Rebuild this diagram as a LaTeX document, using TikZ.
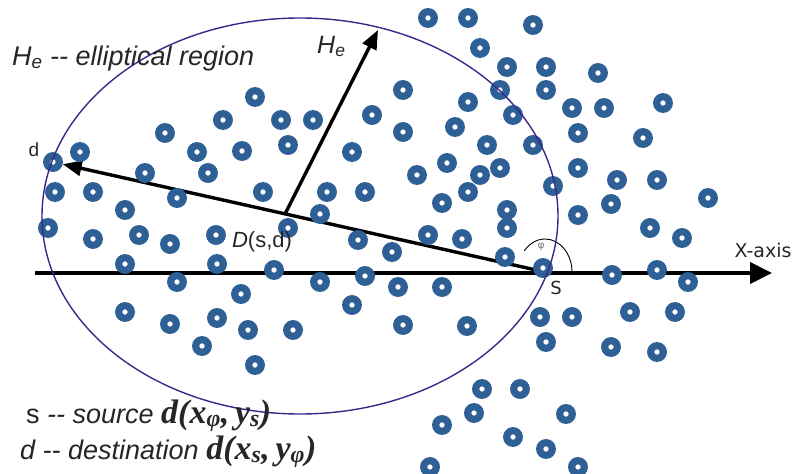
\documentclass[tikz,border=0pt]{standalone}
\usepackage{fontspec}
\setmainfont{Liberation Sans}
\newfontfamily\axisfont{DejaVu Sans}
\newfontfamily\tnrfont{Liberation Serif}
\usetikzlibrary{arrows.meta}

\definecolor{sensorblue}{RGB}{46,96,150}
\definecolor{regionblue}{RGB}{58,40,140}

\begin{document}
\begin{tikzpicture}[x=1pt, y=-1pt,
    sensor/.style={circle, draw=sensorblue, line width=7.2pt, fill=white, minimum size=12.6pt, inner sep=0pt},
    lbl/.style={inner sep=0pt, text=black!85},
    bigarrow/.style={line width=3.4pt, -{Triangle[length=19pt, width=15pt]}}]
    \useasboundingbox (0,0) rectangle (793,474);
    % Axis, source and the two arrows:
    \coordinate (O) at (35,273);
    \coordinate (X) at (772,273);
    \coordinate (S) at (545,272);
    \coordinate (D) at (285,214);
    \coordinate (Htip) at (378,30);
    \node[sensor] (d) at (53,162) {};
    \draw[line width=4pt, -{Triangle[length=22pt, width=21pt]}] (O) -- (X);
    \draw[bigarrow] (S) -- (d);
    \draw[bigarrow] (D) -- (Htip);
    \draw[line width=0.9pt] (S) ++(27,0) arc[start angle=0, end angle=-140, x radius=27, y radius=33];
    % Sensor nodes:
    \foreach \px/\py [count=\i] in {428/18, 468/18, 533/25, 480/48, 507/67, 546/67, 598/73, 546/90,
        500/90, 403/90, 255/97, 468/102, 572/108, 604/108, 663/103, 513/115, 372/115, 223/120,
        281/120, 313/120, 455/127, 403/132, 165/133, 578/133, 643/138, 288/145, 487/145, 533/145,
        80/152, 197/152, 242/151, 352/152, 447/163, 500/168, 578/168, 145/173, 208/173, 480/175,
        417/175, 617/180, 657/180, 553/186, 55/192, 93/192, 177/198, 263/192, 327/192, 365/192,
        468/192, 708/198, 442/203, 611/204, 125/210, 320/214, 507/210, 578/215, 48/228, 507/228,
        288/228, 650/228, 93/239, 139/235, 170/244, 216/235, 358/240, 428/235, 462/239, 682/238,
        392/252, 505/257, 125/264, 217/264, 274/270, 543/268, 612/275, 657/270, 365/276, 177/282,
        320/282, 688/282, 398/287, 442/287, 241/294, 352/305, 125/312, 217/318, 170/324, 248/330,
        293/330, 403/325, 467/326, 540/317, 572/317, 630/312, 675/312, 202/346, 546/342, 611/347,
        657/352, 255/365, 482/389, 520/389, 474/413, 566/414, 442/425, 513/437, 546/449, 430/467,
        578/467}
        \node[sensor] (n\i) at (\px,\py) {};
    % Elliptical region:
    \draw[regionblue, line width=1.4pt] (300,216) ellipse [x radius=258, y radius=198];
    % Labels:
    \node[lbl, anchor=base west, font=\fontsize{27}{30}\selectfont] (title) at (12,65)
        {\textit{H}\textsubscript{\textit{e}} \textit{-{}- elliptical region}};
    \node[lbl, anchor=base west, font=\fontsize{25}{30}\selectfont] (Hlbl) at (317,53) {\textit{H}\textsubscript{\textit{e}}};
    \node[lbl, font=\fontsize{19}{22}\selectfont] (dlbl) at (34,150) {d};
    \node[lbl, font=\fontsize{22}{26}\selectfont] (Dlbl) at (262,242) {\textit{D}(s,d)};
    \node[lbl, text=black!60, font=\fontsize{10}{12}\selectfont] (philbl) at (541,247) {φ};
    \node[lbl, font=\axisfont\fontsize{18}{21}\selectfont] (slbl) at (556,288) {S};
    \node[lbl, font=\axisfont\fontsize{19}{22}\selectfont] (xlbl) at (763,250) {X-axis};
    \node[lbl, anchor=base west, font=\fontsize{27}{30}\selectfont] (src) at (26,423)
        {s \textit{-{}- source} {\tnrfont\fontsize{34}{36}\selectfont\bfseries\itshape d(x\textsubscript{φ},\,y\textsubscript{s})}};
    \node[lbl, anchor=base west, font=\fontsize{27}{30}\selectfont] (dst) at (20,459)
        {\textit{d -{}- destination} {\tnrfont\fontsize{34}{36}\selectfont\bfseries\itshape d(x\textsubscript{s},\,y\textsubscript{φ})}};
\end{tikzpicture}
\end{document}
